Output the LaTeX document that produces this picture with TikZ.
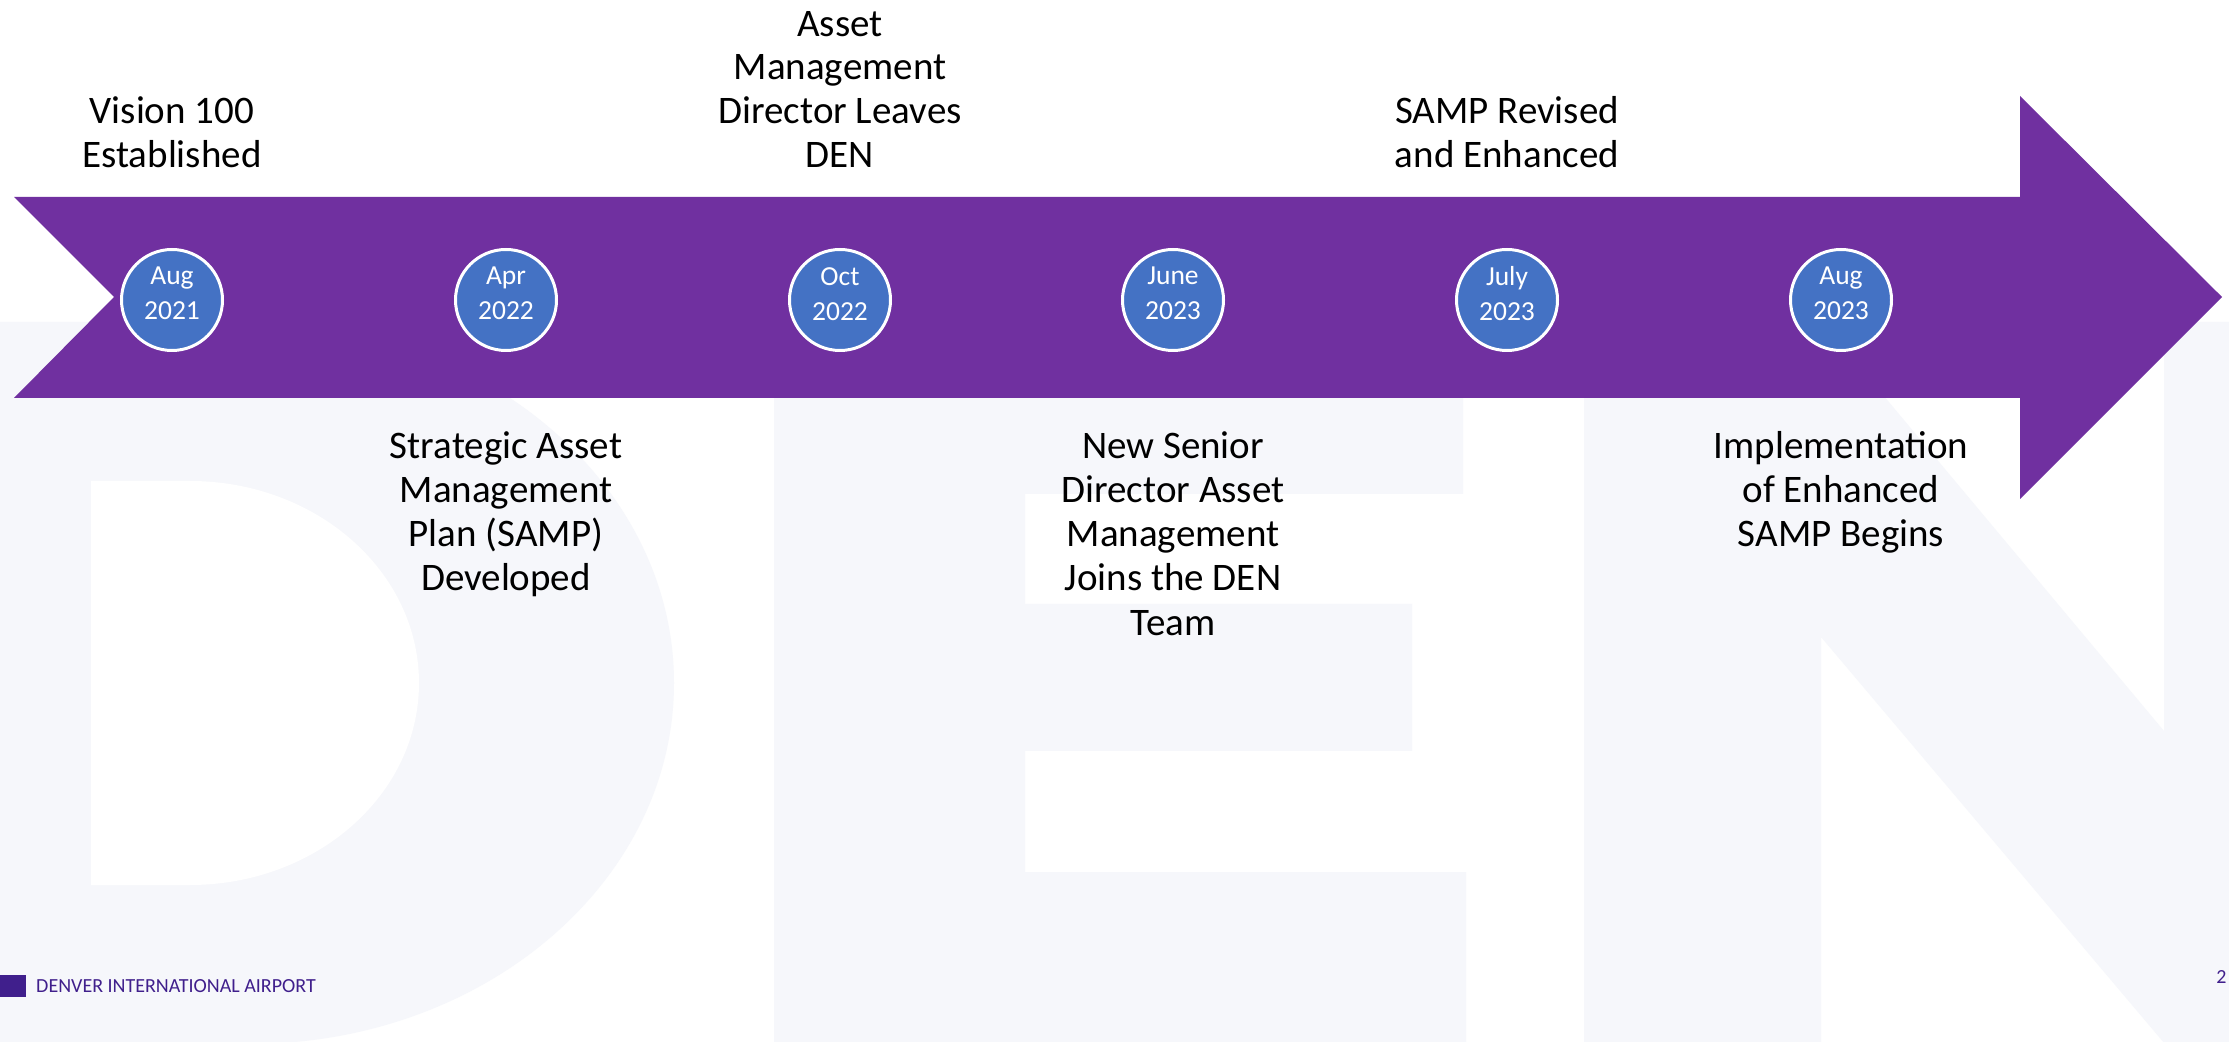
\documentclass[tikz,border=0pt]{standalone}
\usepackage{fontspec}
\setmainfont{Carlito}
\usetikzlibrary{positioning}
\definecolor{bandpurple}{HTML}{7030A0}
\definecolor{dateblue}{HTML}{4472C4}
\definecolor{lettergrey}{RGB}{246,247,251}
\definecolor{denpurple}{RGB}{64,31,140}
\tikzset{
  datecircle/.style={circle, draw=white, line width=1.5pt, fill=dateblue, minimum size=50.5pt, inner sep=0pt, align=center, text=white, text depth=6.4pt, font=\fontsize{13.75}{17.5}\selectfont},
  toplabel/.style={anchor=south, inner sep=0pt, align=center, font=\fontsize{19.5}{21.9}\selectfont},
  botlabel/.style={anchor=north, inner sep=0pt, align=center, font=\fontsize{19.5}{22.1}\selectfont},
  footer/.style={text=denpurple, inner sep=0pt, font=\fontsize{10}{12}\selectfont},
  logobox/.style={fill=denpurple, inner sep=0pt, minimum width=13pt, minimum height=11pt}
}

\begin{document}
\begin{tikzpicture}[x=0.5pt, y=-0.5pt]
  \useasboundingbox (0,0) rectangle (2229,1042);
  \clip (0,0) rectangle (2229,1042);
  \fill[white] (0,0) rectangle (2229,1042);

  % big DEN letters in the background
  \fill[lettergrey] (-10,322) -- (250,322) .. controls (484,322) and (674,484) .. (674,683)
    .. controls (674,882) and (484,1044) .. (250,1044) -- (-10,1044) -- cycle;
  \fill[white] (91,481) -- (190,481) .. controls (316,481) and (419,571) .. (419,683)
    .. controls (419,795) and (316,885) .. (190,885) -- (91,885) -- cycle;
  \fill[lettergrey] (774,322) -- (1463,322) -- (1463,494) -- (1025,494) -- (1025,604) -- (1412,604)
    -- (1412,751) -- (1025,751) -- (1025,872) -- (1466,872) -- (1466,1050) -- (774,1050) -- cycle;
  \fill[lettergrey] (1584,322) -- (1822,322) -- (2164,731) -- (2164,322) -- (2240,322) -- (2240,1050)
    -- (2170,1050) -- (1821,637) -- (1821,1050) -- (1584,1050) -- cycle;

  % timeline band
  \fill[bandpurple] (14,197) -- (2020,197) -- (2020,96) -- (2222,297) -- (2020,499)
    -- (2020,398) -- (14,398) -- (114,297) -- cycle;

  \node[datecircle] (aug21) at (172,300) {Aug\\2021};
  \node[datecircle] (apr22) at (506,300) {Apr\\2022};
  \node[datecircle] (oct22) at (840,300) {Oct\\2022};
  \node[datecircle] (jun23) at (1173,300) {June\\2023};
  \node[datecircle] (jul23) at (1507,300) {July\\2023};
  \node[datecircle] (aug23) at (1841,300) {Aug\\2023};

  % events above the band
  \node[toplabel] (vision) at (172,168) {Vision 100\\Established};
  \node[toplabel] (leaves) at (840,168) {Asset\\Management\\Director Leaves\\DEN};
  \node[toplabel] (revised) at (1507,168) {SAMP Revised\\and Enhanced};

  % events below the band
  \node[botlabel] (samp) at (506,431) {Strategic Asset\\Management\\Plan (SAMP)\\Developed};
  \node[botlabel] (joins) at (1173,431) {New Senior\\Director Asset\\Management\\Joins the DEN\\Team};
  \node[botlabel] (begins) at (1841,431) {Implementation\\of Enhanced\\SAMP Begins};

  \node[logobox, anchor=north west] (logo) at (0,975) {};
  \node[footer, right=4.5pt of logo] (airport) {DENVER INTERNATIONAL AIRPORT};
  \node[footer, anchor=base east] (pagenum) at (2227,983) {2};
\end{tikzpicture}
\end{document}
